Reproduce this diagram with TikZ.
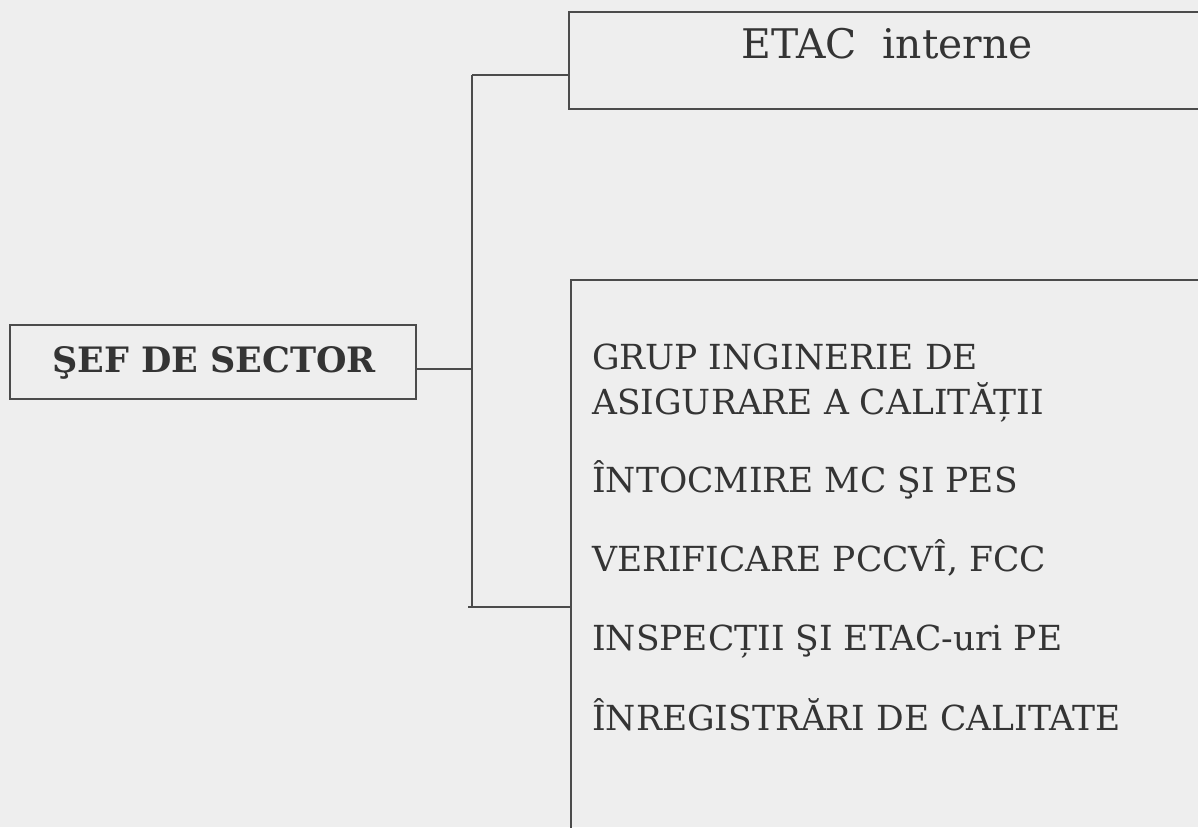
\documentclass[tikz,border=0pt]{standalone}
\usepackage{fontspec}
\setmainfont{DejaVu Serif}
\definecolor{paper}{RGB}{238,238,238}
\definecolor{ink}{RGB}{75,75,75}
\definecolor{txt}{RGB}{52,52,52}
\tikzset{
	box/.style={draw=ink, line width=1.5pt, rectangle, inner sep=0pt},
	wire/.style={draw=ink, line width=1.5pt},
	item/.style={anchor=base west, inner sep=0pt, text=txt, font=\fontsize{34.5}{40}\selectfont},
}

\begin{document}
\begin{tikzpicture}[x=1pt,y=-1pt]
\fill[paper] (0,0) rectangle (1198,827);
\useasboundingbox (0,0) rectangle (1198,827);
\clip (0,0) rectangle (1198,827);

% left box
\node[box, minimum width=406pt, minimum height=74pt] (sef) at (213,362) {};
\path (214,372) node[anchor=base, inner sep=0pt, text=txt, font=\bfseries\fontsize{35}{40}\selectfont] (sefTxt) {ŞEF DE SECTOR};

% top box, runs off the right edge
\node[box, anchor=north west, minimum width=660pt, minimum height=97pt] (etac) at (568,11) {};
\path (887,58) node[anchor=base, inner sep=0pt, text=txt, font=\fontsize{40.8}{46}\selectfont] (etacTxt) {ETAC\ \ interne};

% lower box, runs off the right and bottom edges
\node[box, anchor=north west, minimum width=660pt, minimum height=600pt] (body) at (570,279) {};
\foreach \y/\t [count=\i] in {369/GRUP INGINERIE DE, 414/ASIGURARE A CALITĂȚII, 492/ÎNTOCMIRE MC ŞI PES,
	571/{VERIFICARE PCCVÎ, FCC}, 650/INSPECȚII ŞI ETAC-uri PE, 730/ÎNREGISTRĂRI DE CALITATE}
{
	\path (592,\y) node[item] (l\i) {\t};
}

% connectors
\coordinate (jTop) at (472,75);
\coordinate (jMid) at (472,369);
\coordinate (jBot) at (472,607);
\draw[wire] (sef.east |- jMid) -- (jMid);
\draw[wire] (jTop) -- (jBot);
\draw[wire] (jTop) -- (jTop -| etac.west);
\draw[wire] ([xshift=-4pt]jBot) -- (jBot -| body.west);

\end{tikzpicture}
\end{document}
